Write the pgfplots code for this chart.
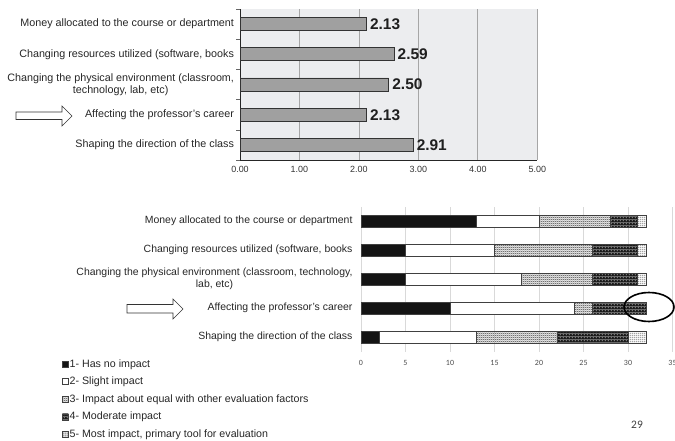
\documentclass[border=0pt]{standalone}
\usepackage{pgfplots}
\pgfplotsset{compat=1.18}
\usepackage{fontspec}
\setmainfont{Liberation Sans}
\newfontfamily\carlito{Carlito}
\usetikzlibrary{patterns}

\pgfdeclarepatterninherentlycolored{pchecker}{\pgfpointorigin}{\pgfqpoint{1.6bp}{1.6bp}}{\pgfqpoint{1.6bp}{1.6bp}}{%
  \pgfsetfillcolor{white}%
  \pgfpathrectangle{\pgfpointorigin}{\pgfqpoint{1.6bp}{1.6bp}}\pgfusepath{fill}%
  \pgfsetfillcolor{black!85}%
  \pgfpathrectangle{\pgfpointorigin}{\pgfqpoint{0.8bp}{0.8bp}}%
  \pgfpathrectangle{\pgfqpoint{0.8bp}{0.8bp}}{\pgfqpoint{0.8bp}{0.8bp}}\pgfusepath{fill}}
\pgfdeclarepatterninherentlycolored{pblackdots}{\pgfpointorigin}{\pgfqpoint{3.2bp}{3.2bp}}{\pgfqpoint{3.2bp}{3.2bp}}{%
  \pgfsetfillcolor{black!90}%
  \pgfpathrectangle{\pgfpointorigin}{\pgfqpoint{3.2bp}{3.2bp}}\pgfusepath{fill}%
  \pgfsetfillcolor{white}%
  \pgfpathrectangle{\pgfqpoint{1bp}{1bp}}{\pgfqpoint{1bp}{1bp}}\pgfusepath{fill}}
\pgfdeclarepatterninherentlycolored{pwhitedots}{\pgfpointorigin}{\pgfqpoint{1.8bp}{1.8bp}}{\pgfqpoint{1.8bp}{1.8bp}}{%
  \pgfsetfillcolor{white}%
  \pgfpathrectangle{\pgfpointorigin}{\pgfqpoint{1.8bp}{1.8bp}}\pgfusepath{fill}%
  \pgfsetfillcolor{black!85}%
  \pgfpathrectangle{\pgfqpoint{0.4bp}{0.4bp}}{\pgfqpoint{0.9bp}{0.9bp}}\pgfusepath{fill}}

\definecolor{plotbg}{RGB}{236,237,239}
\definecolor{barg}{RGB}{160,160,160}

\pgfplotstableread{
y  v
1  2.91
2  2.125
3  2.50
4  2.59
5  2.125
}\meantab

\pgfplotstableread{
y  a  b  c  d  e
1  2  11 9  8  2
2  10 14 2  6  0
3  5  13 8  5  1
4  5  10 11 5  1
5  13 7  8  3  1
}\disttab

\begin{document}
\begin{tikzpicture}[x=1bp,y=1bp]
\path[use as bounding box] (0,0) rectangle (675,-441);

% ---------- top chart ----------
\begin{axis}[
  at={(240bp,-160bp)}, anchor=south west, scale only axis,
  width=297.3bp, height=151bp,
  xbar, bar width=13bp,
  xmin=0, xmax=5, ymin=0.5, ymax=5.5,
  xtick={0,1,...,5},
  xticklabel={\pgfmathprintnumber[fixed,fixed zerofill,precision=2,assume math mode=true]{\tick}},
  xticklabel style={font=\fontsize{9}{10}\selectfont, text=black!80, yshift=-3bp},
  ytick={1,...,5},
  yticklabels={Shaping the direction of the class,
               Affecting the professor's career,
               {Changing the physical environment (classroom,\\technology, lab, etc)},
               {Changing resources utilized (software, books},
               Money allocated to the course or department},
  yticklabel style={font=\fontsize{10.8}{12.2}\selectfont, text=black!85, align=center, xshift=-2.5bp},
  minor ytick={0.5,1.5,...,5.5},
  major tick length=0pt, minor tick length=4bp, tick align=outside,
  minor tick style={black!60},
  xmajorgrids, major grid style={black!35, line width=0.7bp},
  axis background/.style={fill=plotbg},
  axis x line*=bottom, axis y line*=left,
  axis line style={-, black!85, line width=0.9bp},
  nodes near coords,
  nodes near coords style={font=\bfseries\fontsize{15.5}{16}\selectfont, text=black!88,
     /pgf/number format/.cd, fixed, fixed zerofill, precision=2, assume math mode=true},
]
\addplot[fill=barg, draw=black!80, line width=0.8bp] table[x=v, y=y] {\meantab};
\end{axis}

% arrow top
\draw[black!80, line width=0.6bp, fill=white]
  (16,-112) -- (62,-112) -- (62,-106) -- (72,-116) -- (62,-126) -- (62,-119.5) -- (16,-119.5) -- cycle;

% ---------- bottom chart ----------
\begin{axis}[
  at={(361bp,-351.5bp)}, anchor=south west, scale only axis,
  width=311.5bp, height=145bp,
  xbar stacked, bar width=12bp,
  xmin=0, xmax=35, ymin=0.5, ymax=5.5,
  xtick={0,5,...,35},
  xticklabel={\pgfmathprintnumber[assume math mode=true]{\tick}},
  xticklabel style={font=\carlito\fontsize{8}{9}\selectfont, text=black!70, yshift=-5bp},
  ytick={1,...,5},
  yticklabels={Shaping the direction of the class,
               Affecting the professor's career,
               {Changing the physical environment (classroom, technology,\\lab, etc)},
               {Changing resources utilized (software, books},
               Money allocated to the course or department},
  yticklabel style={font=\fontsize{10.5}{12}\selectfont, text=black!85, align=center, xshift=-5bp},
  major tick length=0pt,
  axis line style={draw=none},
  xmajorgrids, major grid style={black!15, line width=0.9bp},
  legend style={at={(axis description cs:-0.97,-0.03)}, anchor=north west,
    draw=none, fill=none, font=\fontsize{10.7}{12}\selectfont, text=black!85,
    row sep=5.1bp, legend cell align=left,
    nodes={inner sep=1bp, text height=8bp, text depth=2.5bp}},
  legend image code/.code={\path[#1] (0bp,-2.8bp) rectangle (6bp,3.2bp);},
]
\addplot[fill=black!92, draw=black!75, line width=0.6bp] table[x=a, y=y] {\disttab};
\addplot[fill=white, draw=black!75, line width=0.6bp] table[x=b, y=y] {\disttab};
\addplot[pattern=pchecker, draw=black!75, line width=0.6bp] table[x=c, y=y] {\disttab};
\addplot[pattern=pblackdots, draw=black!75, line width=0.6bp] table[x=d, y=y] {\disttab};
\addplot[pattern=pwhitedots, draw=black!75, line width=0.6bp] table[x=e, y=y] {\disttab};
\legend{1- Has no impact, 2- Slight impact, 3- Impact about equal with other evaluation factors,
        4- Moderate impact, {5- Most impact, primary tool for evaluation}}
\end{axis}

% arrow bottom
\draw[black!80, line width=0.6bp, fill=white]
  (127,-304.5) -- (173,-304.5) -- (173,-299) -- (183,-309) -- (173,-319) -- (173,-313) -- (127,-313) -- cycle;
% ellipse
\draw[black, line width=1.6bp] (649,-307) ellipse [x radius=25, y radius=14.5];

\node[font=\carlito\fontsize{11.5}{13}\selectfont, text=black!75] at (637,-425) {29};
\end{tikzpicture}
\end{document}
